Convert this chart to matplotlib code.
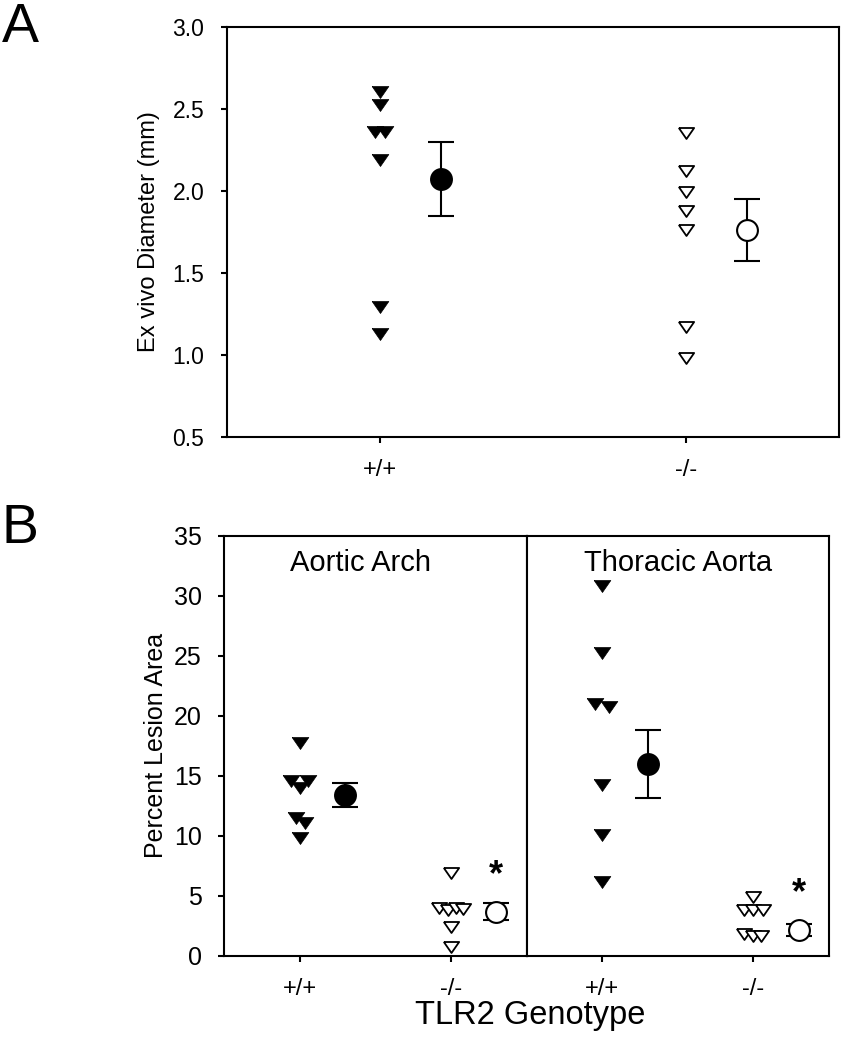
import numpy as np
import matplotlib
matplotlib.use("Agg")
import matplotlib.pyplot as plt

plt.rcParams['font.family'] = ['Liberation Sans', 'DejaVu Sans']

####################### DATA #######################
genotypes = ["+/+", "-/-"]

# Panel A - ex vivo diameter (mm)
diam_wt = [2.60, 2.52, 2.36, 2.36, 2.19, 1.29, 1.13]
diam_ko = [2.35, 2.12, 1.99, 1.88, 1.76, 1.17, 0.98]
diam_mean = [2.07, 1.76]
diam_sem = [0.225, 0.19]

# Panel B - percent lesion area
arch_wt = [17.7, 14.6, 14.6, 14.0, 11.5, 11.1, 9.85]
arch_ko = [6.9, 3.95, 3.85, 4.0, 3.9, 2.4, 0.75]
arch_mean = [13.4, 3.67]
arch_sem = [1.0, 0.72]

thor_wt = [30.8, 25.2, 21.0, 20.75, 14.2, 10.06, 6.17]
thor_ko = [4.87, 3.8, 3.8, 3.8, 1.8, 1.67, 1.67]
thor_mean = [16.0, 2.14]
thor_sem = [2.85, 0.47]

# horizontal nudges for overlapping points (layout only)
off_diam_wt = [0, 0, -0.016, 0.016, 0, 0, 0]
off_diam_ko = [0, 0, 0, 0, 0, 0, 0]
off_arch_wt = [0, -0.056, 0.057, 0, -0.022, 0.033, 0]
off_arch_ko = [0, -0.077, -0.022, 0.033, 0.077, 0, 0]
off_thor_wt = [0, 0, -0.044, 0.044, 0, 0, 0]
off_thor_ko = [0, -0.06, 0, 0.062, -0.062, 0, 0.05]

####################### STYLE #######################
tri = [(-1, 0.72), (1, 0.72), (0, -0.72), (-1, 0.72)]
LW = 1.5
W, H = 841, 1050


def draw_group(ax, x, vals, offs, mean, sem, filled, mean_shift, tri_ms):
    xs = [x + o for o in offs]
    if filled:
        ax.plot(xs, vals, linestyle="none", marker=tri, ms=tri_ms,
                mfc="black", mec="black", mew=0.5, zorder=3)
    else:
        ax.plot(xs, vals, linestyle="none", marker=tri, ms=tri_ms - 1,
                mfc="white", mec="black", mew=1.3, zorder=3)
    ax.errorbar([x + mean_shift], [mean], yerr=[sem], fmt="none",
                ecolor="black", elinewidth=LW, capsize=9.5, capthick=LW, zorder=2)
    ax.plot([x + mean_shift], [mean], linestyle="none", marker="o", ms=15,
            mfc="black" if filled else "white", mec="black", mew=1.5, zorder=4)


def style_axis(ax, ysize):
    for s in ax.spines.values():
        s.set_linewidth(LW)
    ax.tick_params(direction="out", length=4, width=LW, top=False, right=False)
    ax.tick_params(axis="y", labelsize=ysize, pad=12)
    ax.tick_params(axis="x", labelsize=17, pad=12)


fig = plt.figure(figsize=(W / 100, H / 100), dpi=100)

# ---------------- panel A ----------------
axA = fig.add_axes([226.5 / W, 1 - 437 / H, (839 - 226.5) / W, (437 - 26.7) / H])
draw_group(axA, 1, diam_wt, off_diam_wt, diam_mean[0], diam_sem[0], True, 0.2, 12)
draw_group(axA, 2, diam_ko, off_diam_ko, diam_mean[1], diam_sem[1], False, 0.2, 12)
axA.set_xlim(0.5, 2.5)
axA.set_ylim(0.5, 3.0)
axA.set_yticks(np.arange(0.5, 3.01, 0.5))
axA.set_yticklabels([f"{v:.1f}" for v in np.arange(0.5, 3.01, 0.5)])
axA.set_xticks([1, 2])
axA.set_xticklabels(genotypes)
style_axis(axA, 16.5)
axA.set_ylabel("Ex vivo Diameter (mm)", fontsize=17, labelpad=9)

# ---------------- panel B ----------------
b_bottom = 1 - 955.7 / H
b_height = 420 / H
axB1 = fig.add_axes([224 / W, b_bottom, 302.5 / W, b_height])
axB2 = fig.add_axes([526.5 / W, b_bottom, 302.5 / W, b_height])

draw_group(axB1, 1, arch_wt, off_arch_wt, arch_mean[0], arch_sem[0], True, 0.3, 12)
draw_group(axB1, 2, arch_ko, off_arch_ko, arch_mean[1], arch_sem[1], False, 0.3, 12)
draw_group(axB2, 1, thor_wt, off_thor_wt, thor_mean[0], thor_sem[0], True, 0.3, 12)
draw_group(axB2, 2, thor_ko, off_thor_ko, thor_mean[1], thor_sem[1], False, 0.3, 12)

for ax in (axB1, axB2):
    ax.set_xlim(0.5, 2.5)
    ax.set_ylim(0, 35)
    ax.set_yticks(np.arange(0, 36, 5))
    ax.set_xticks([1, 2])
    ax.set_xticklabels(genotypes)
    style_axis(ax, 18)
axB2.tick_params(axis="y", left=False, labelleft=False)
axB1.set_ylabel("Percent Lesion Area", fontsize=18, labelpad=4)

axB1.text(0.45, 0.935, "Aortic Arch", transform=axB1.transAxes,
          ha="center", va="center", fontsize=21)
axB2.text(0.5, 0.935, "Thoracic Aorta", transform=axB2.transAxes,
          ha="center", va="center", fontsize=21)

# significance stars
axB1.text(2.3, 6.7, "*", ha="center", va="center", fontsize=26, fontweight="bold")
axB2.text(2.3, 5.2, "*", ha="center", va="center", fontsize=26, fontweight="bold")

fig.text(530 / W, 1 - 1024 / H, "TLR2 Genotype", ha="center", va="baseline", fontsize=23.5)

# panel letters
fig.text(2 / W, 1 - 42 / H, "A", ha="left", va="baseline", fontsize=40)
fig.text(2 / W, 1 - 543 / H, "B", ha="left", va="baseline", fontsize=40)

fig.savefig("out.png", dpi=100)
